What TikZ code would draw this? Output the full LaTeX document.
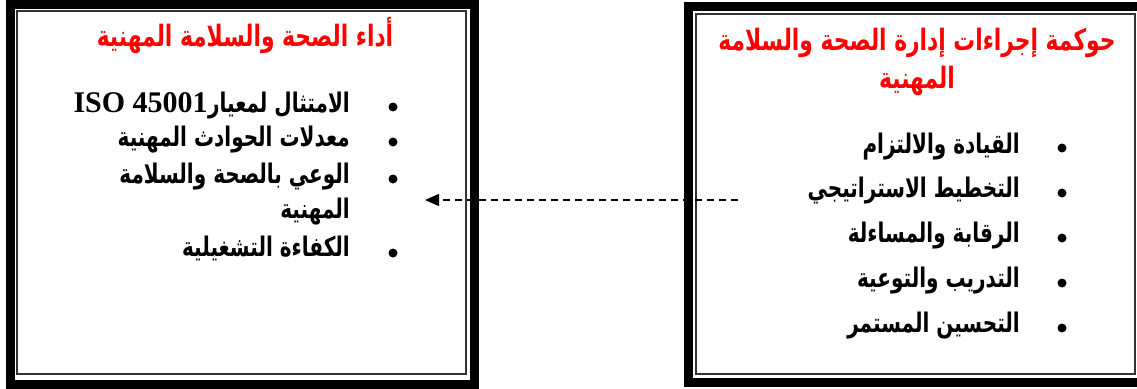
\documentclass[tikz,border=0pt]{standalone}
\usepackage{fontspec}
\usetikzlibrary{arrows.meta}
\TeXXeTstate=1
\newfontfamily\arabicfont[Script=Arabic]{DejaVu Sans}
\newfontfamily\latinserif{Liberation Serif}
\definecolor{titlered}{RGB}{255,0,0}
\newcommand{\tallar}[1]{\scalebox{1}[1.35]{\beginR #1\endR}}
\tikzset{
  thickframe/.style={line width=9pt, draw=black},
  thinframe/.style={line width=2pt, draw=black!80},
  titletext/.style={font=\arabicfont\bfseries\fontsize{21.8}{26}\selectfont, text=titlered, inner sep=0pt, anchor=base},
  itemtext/.style={font=\arabicfont\bfseries\fontsize{20}{24}\selectfont, inner sep=0pt, anchor=base east},
  latintext/.style={font=\latinserif\bfseries\fontsize{30}{34}\selectfont, inner sep=0pt, anchor=base east},
  dot/.style={circle, fill=black, inner sep=0pt, minimum size=9pt},
  flow/.style={dash pattern=on 7pt off 5pt, line width=1.3pt, -{Triangle[length=14pt,width=12pt]}}
}
\begin{document}
\begin{tikzpicture}[x=1pt,y=-1pt]
\useasboundingbox (0,0) rectangle (1137,388);
\clip (0,0) rectangle (1137,388);
% left box
\draw[thickframe] (10,4) rectangle (474,384);
\draw[thinframe] (17,11) rectangle (466,374);
% right box
\draw[thickframe] (688,6.5) rectangle (1146,382.5);
\draw[thinframe] (696,13.5) rectangle (1135,374);

% left title
\node[titletext] (lt) at (245,46) {\tallar{أداء الصحة والسلامة المهنية}};
% left items
\node[dot] (lb1) at (393,107) {};
\node[dot] (lb2) at (393,142) {};
\node[dot] (lb3) at (393,179) {};
\node[dot] (lb4) at (393,253) {};
\node[itemtext] (li1) at (350,112) {\tallar{الامتثال لمعيار}};
\node[latintext] (iso) at (li1.base west) {ISO 45001};
\node[itemtext] (li2) at (350,146) {\tallar{معدلات الحوادث المهنية}};
\node[itemtext] (li3a) at (350,183) {\tallar{الوعي بالصحة والسلامة}};
\node[itemtext] (li3b) at (350,218) {\tallar{المهنية}};
\node[itemtext] (li4) at (350,256) {\tallar{الكفاءة التشغيلية}};

% right title
\node[titletext] (rt1) at (917,50) {\tallar{حوكمة إجراءات إدارة الصحة والسلامة}};
\node[titletext] (rt2) at (917,88) {\tallar{المهنية}};
% right items
\node[dot] (rb1) at (1062,148) {};
\node[dot] (rb2) at (1062,193) {};
\node[dot] (rb3) at (1062,238) {};
\node[dot] (rb4) at (1062,283) {};
\node[dot] (rb5) at (1062,328) {};
\node[itemtext] (ri1) at (1020,153) {\tallar{القيادة والالتزام}};
\node[itemtext] (ri2) at (1020,197) {\tallar{التخطيط الاستراتيجي}};
\node[itemtext] (ri3) at (1020,242) {\tallar{الرقابة والمساءلة}};
\node[itemtext] (ri4) at (1020,287) {\tallar{التدريب والتوعية}};
\node[itemtext] (ri5) at (1020,332) {\tallar{التحسين المستمر}};

% connector
\coordinate (src) at (738,200);
\coordinate (dst) at (425,200);
\draw[flow] (src) -- (dst);
\end{tikzpicture}
\end{document}
